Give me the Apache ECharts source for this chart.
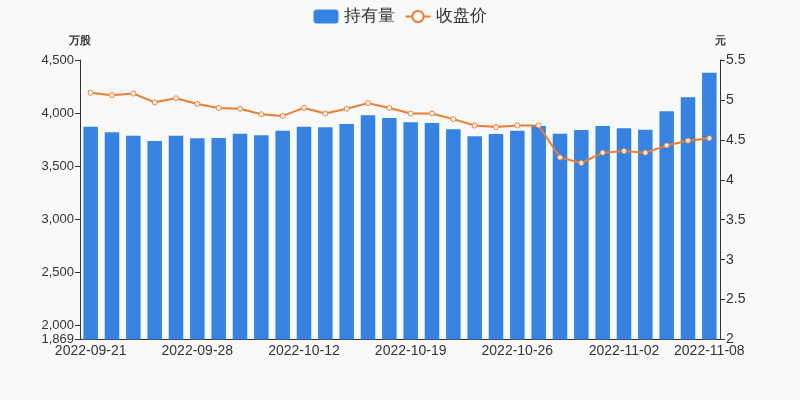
<!DOCTYPE html>
<html>
<head>
<meta charset="utf-8">
<script src="https://cdn.jsdelivr.net/npm/echarts@6/dist/echarts.min.js"></script>
<style>html,body{margin:0;padding:0;background:#f9f9f9;}#c{width:800px;height:400px;}</style>
</head>
<body>
<div id="c"></div>
<script>
var dates = ['2022-09-21','2022-09-22','2022-09-23','2022-09-26','2022-09-27','2022-09-28','2022-09-29','2022-09-30','2022-10-10','2022-10-11','2022-10-12','2022-10-13','2022-10-14','2022-10-17','2022-10-18','2022-10-19','2022-10-20','2022-10-21','2022-10-24','2022-10-25','2022-10-26','2022-10-27','2022-10-28','2022-10-31','2022-11-01','2022-11-02','2022-11-03','2022-11-04','2022-11-07','2022-11-08'];
var holdings = [3872,3819,3787,3738,3787,3763,3766,3806,3791,3834,3872,3866,3897,3979,3954,3913,3907,3848,3782,3803,3834,3879,3806,3841,3879,3857,3844,4017,4149,4380];
var prices = [5.09,5.06,5.08,4.97,5.02,4.95,4.90,4.89,4.82,4.80,4.90,4.83,4.89,4.96,4.90,4.83,4.83,4.76,4.68,4.66,4.68,4.68,4.28,4.21,4.34,4.36,4.34,4.43,4.49,4.52];
var seriesNames = ['持有量','收盘价'];
var leftName = '万股', rightName = '元';

var chart = echarts.init(document.getElementById('c'));
var lastIdx = dates.length - 1;
function showLabel(i){ return i % 5 === 0 && i <= lastIdx - 3 || i === lastIdx; }
chart.setOption({
  backgroundColor: '#f9f9f9',
  animation: false,
  legend: {
    top: 3, left: 'center',
    itemWidth: 25, itemHeight: 14, itemGap: 10,
    textStyle: {fontSize: 17, color: '#333'},
    data: seriesNames
  },
  grid: {left: 80, right: 80, top: 60, bottom: 60.5},
  xAxis: {
    type: 'category',
    data: dates,
    boundaryGap: true,
    axisLine: {lineStyle: {color: '#333'}},
    axisTick: {interval: function(i){ return showLabel(i); }},
    axisLabel: {interval: function(i){ return showLabel(i); }, color: '#333', fontSize: 14, margin: 5}
  },
  yAxis: [
    {
      type: 'value', name: leftName, min: 1869, max: 4500,
      nameTextStyle: {color: '#333', fontWeight: 'bold', fontSize: 11},
      nameGap: 14,
      axisLine: {show: true, lineStyle: {color: '#333'}},
      axisTick: {show: true},
      splitLine: {show: false},
      axisLabel: {color: '#333', fontSize: 13, margin: 6, formatter: function(v){ return v.toLocaleString('en-US'); }}
    },
    {
      type: 'value', name: rightName, min: 2, max: 5.5, interval: 0.5,
      nameTextStyle: {color: '#333', fontWeight: 'bold', fontSize: 11},
      nameGap: 14,
      axisLine: {show: true, lineStyle: {color: '#333'}},
      axisTick: {show: true},
      splitLine: {show: false},
      axisLabel: {color: '#333', fontSize: 14, margin: 6}
    }
  ],
  series: [
    {
      name: seriesNames[0], type: 'bar', data: holdings, yAxisIndex: 0,
      barCategoryGap: '32%',
      itemStyle: {color: '#3584e4'}
    },
    {
      name: seriesNames[1], type: 'line', data: prices, yAxisIndex: 1,
      symbol: 'circle', symbolSize: 5, showAllSymbol: true,
      lineStyle: {color: '#ed7d31', width: 2},
      itemStyle: {color: '#fff', borderColor: '#ed7d31', borderWidth: 1}
    }
  ]
});
</script>
</body>
</html>
